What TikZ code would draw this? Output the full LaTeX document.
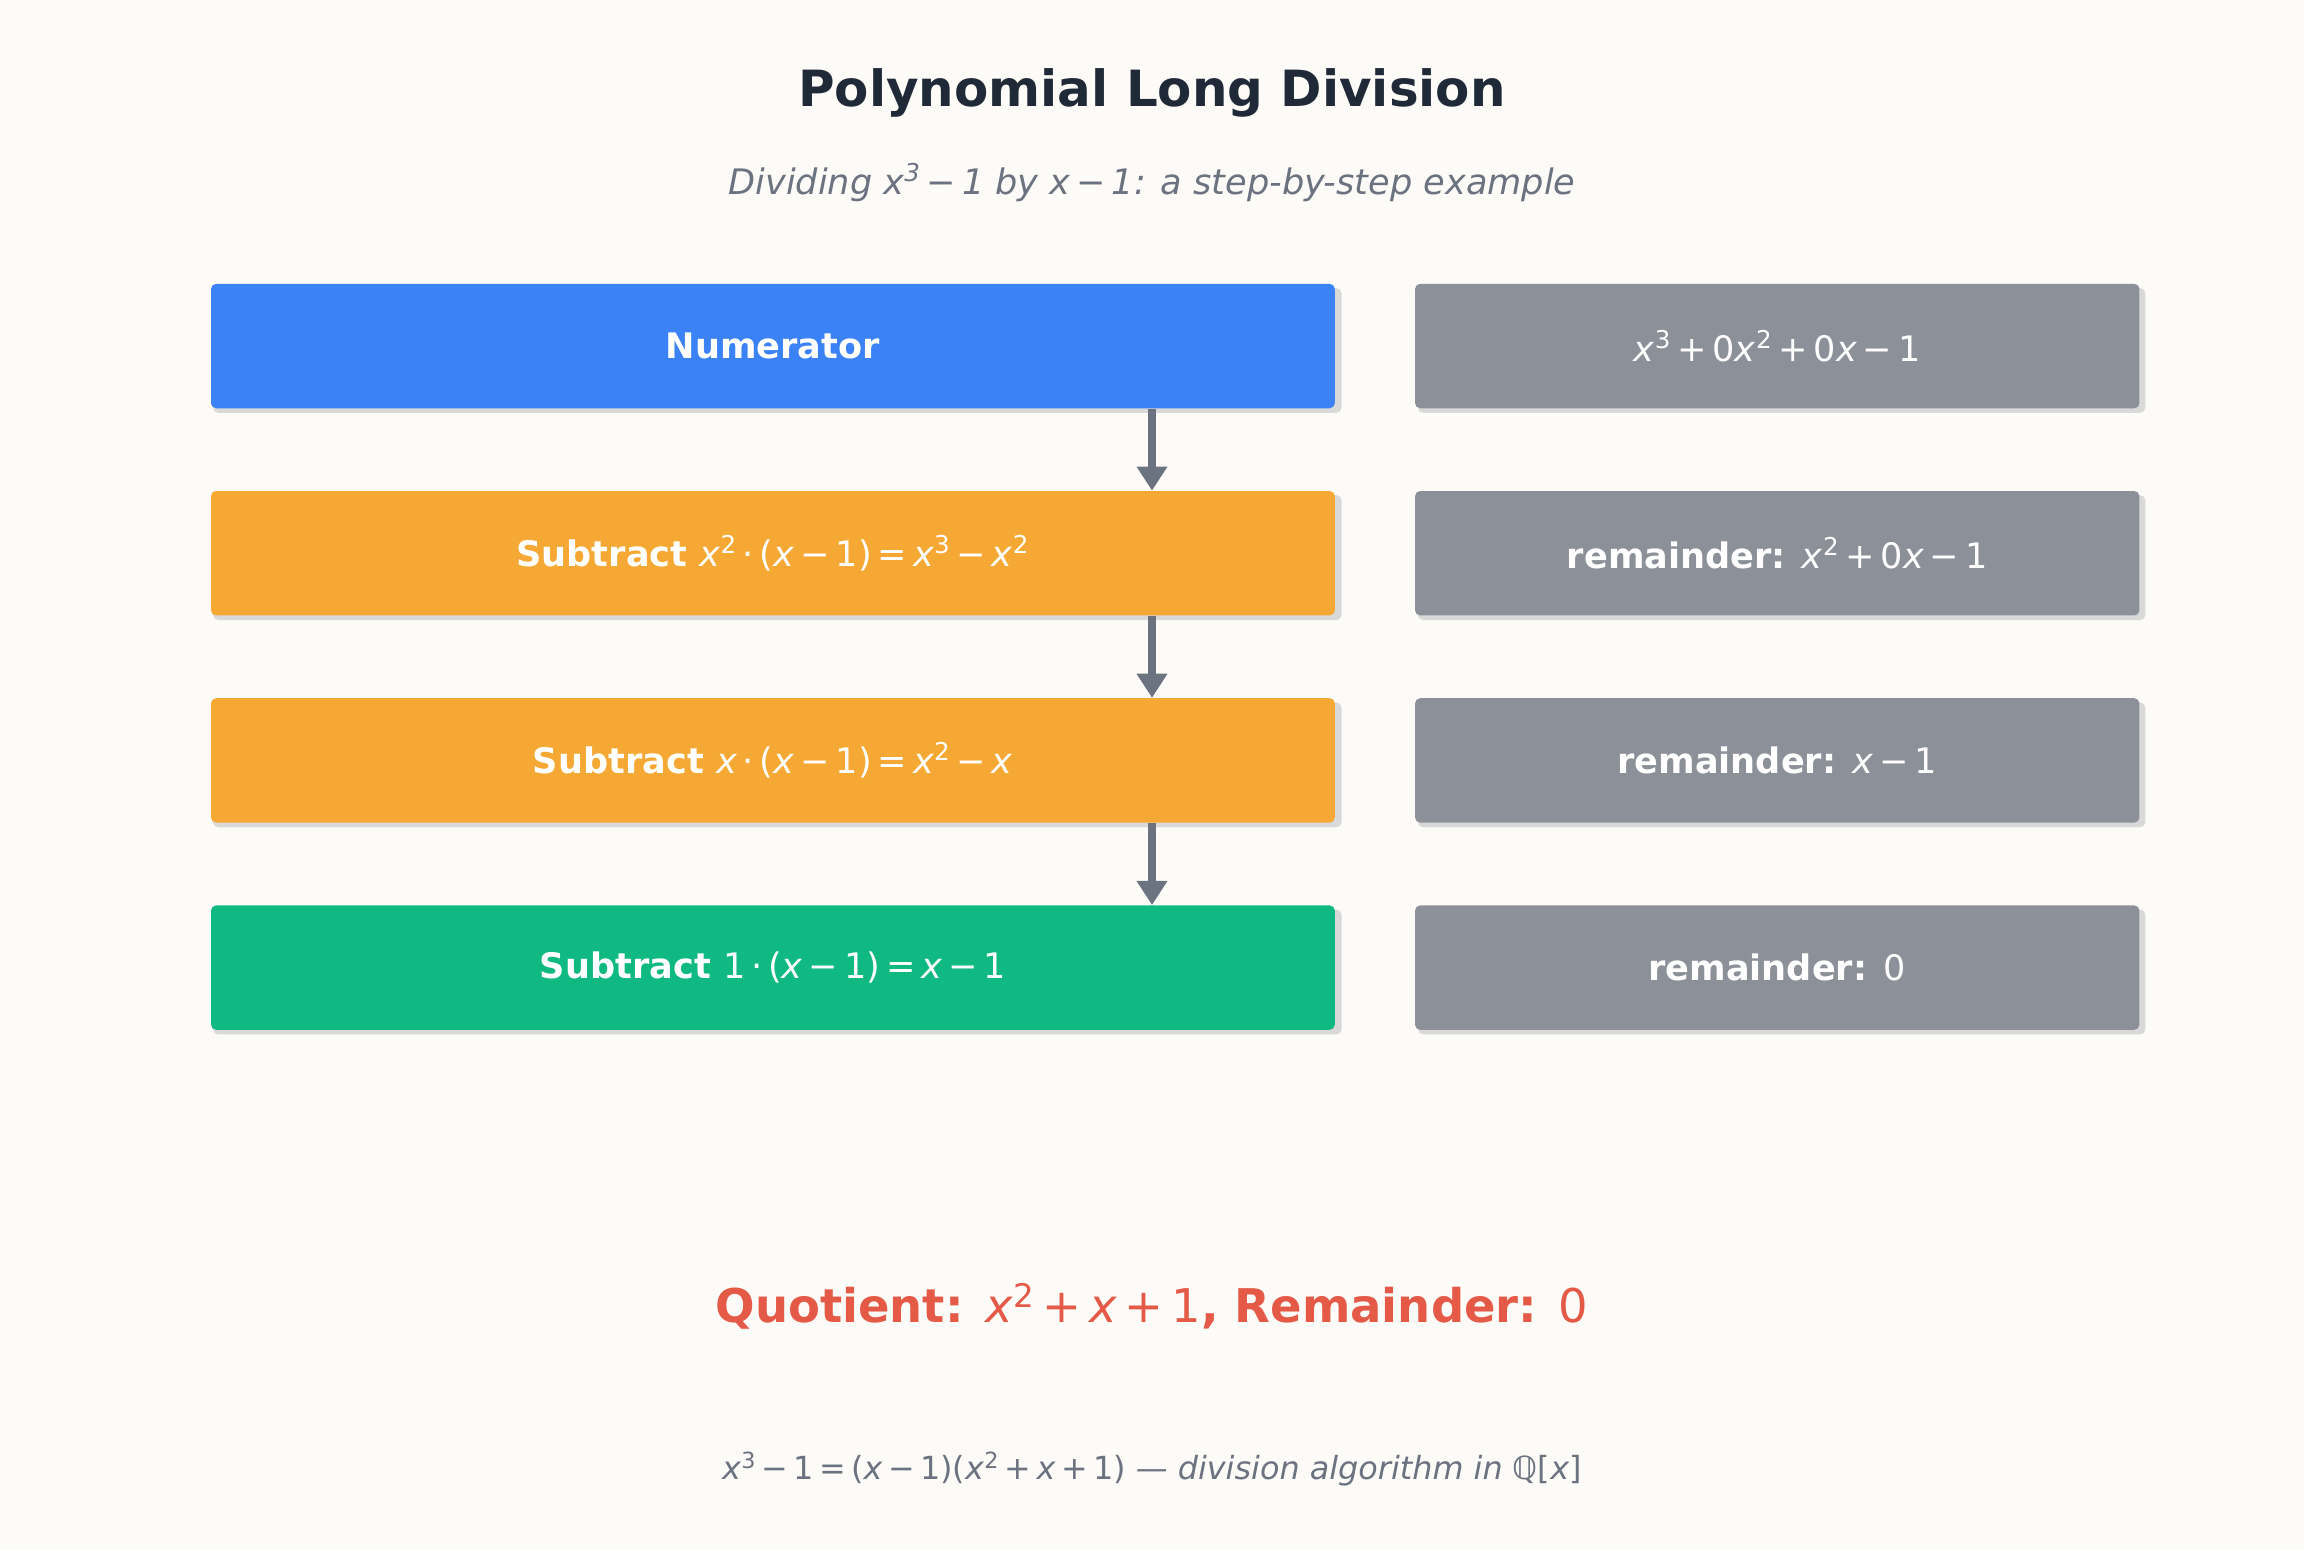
\documentclass[tikz,border=0pt]{standalone}
\usepackage{fontspec}
\setmainfont{DejaVu Sans}
\usetikzlibrary{arrows.meta}
\definecolor{bg}{HTML}{FCFBF8}
\definecolor{cblue}{HTML}{3B82F6}
\definecolor{corange}{HTML}{F5A833}
\definecolor{cgreen}{HTML}{10B981}
\definecolor{cgray}{HTML}{8C9098}
\definecolor{carrow}{HTML}{6B7280}
\definecolor{ctitle}{HTML}{1F2937}
\definecolor{cred}{HTML}{E45A47}
\newcommand{\vx}{\textit{x}}
\newcommand{\sq}[1]{\textsuperscript{#1}}
\newcommand{\mn}{\,−\,}
\newcommand{\pl}{\,+\,}
\newcommand{\eqq}{\,=\,}
\newcommand{\ssize}[1]{\fontsize{#1pt}{#1pt}\selectfont}
\begin{document}
\begin{tikzpicture}[x=0.3mm,y=-0.3mm,
  box/.style={rounded corners=3pt,text=white,font=\ssize{20.4}\bfseries,minimum height=72.3pt,inner sep=0pt},
  lbox/.style={box,minimum width=652.8pt},
  rbox/.style={box,minimum width=420.8pt,fill=cgray},
  shad/.style={fill=black!15,rounded corners=3pt},
  arr/.style={-{Triangle[length=14pt,width=17pt]},line width=4.2pt,draw=carrow}]
\fill[bg] (0,0) rectangle (1568,1055);
\node[font=\ssize{29}\bfseries,text=ctitle] (title) at (784,63) {Polynomial Long Division};
\node[font=\ssize{20.4}\itshape,text=carrow] (sub) at (784,124) {Dividing \vx\sq{3}\mn 1 by \vx\mn 1: a step-by-step example};
\foreach \y in {235.5,376.5,517.5,658.5}{
  \fill[shad] (145,\y-39.5) rectangle (913,\y+45.5);
  \fill[shad] (965,\y-39.5) rectangle (1460,\y+45.5);
}
\node[lbox,fill=cblue] (L1) at (526,235.5) {Numerator};
\node[lbox,fill=corange] (L2) at (526,376.5) {Subtract \mdseries\vx\sq{2}\,·\,(\vx\mn 1)\eqq\vx\sq{3}\mn\vx\sq{2}};
\node[lbox,fill=corange] (L3) at (526,517.5) {Subtract \mdseries\vx\,·\,(\vx\mn 1)\eqq\vx\sq{2}\mn\vx};
\node[lbox,fill=cgreen] (L4) at (526,658.5) {Subtract \mdseries 1\,·\,(\vx\mn 1)\eqq\vx\mn 1};
\node[rbox] (R1) at (1209.5,235.5) {\mdseries\vx\sq{3}\pl 0\vx\sq{2}\pl 0\vx\mn 1};
\node[rbox] (R2) at (1209.5,376.5) {remainder: \mdseries\vx\sq{2}\pl 0\vx\mn 1};
\node[rbox] (R3) at (1209.5,517.5) {remainder: \mdseries\vx\mn 1};
\node[rbox] (R4) at (1209.5,658.5) {remainder: \mdseries 0};
\coordinate (ax) at (784,0);
\draw[arr] (L1.south -| ax) -- (L2.north -| ax);
\draw[arr] (L2.south -| ax) -- (L3.north -| ax);
\draw[arr] (L3.south -| ax) -- (L4.north -| ax);
\node[font=\ssize{27}\bfseries,text=cred] (q) at (784,889) {Quotient: \mdseries\vx\sq{2}\pl\vx\pl 1\bfseries, Remainder: \mdseries 0};
\node[font=\ssize{18.5},text=carrow] (foot) at (784,1000) {\vx\sq{3}\mn 1\eqq(\vx\mn 1)(\vx\sq{2}\pl\vx\pl 1) \textit{— division algorithm in} ℚ[\vx]};
\end{tikzpicture}
\end{document}
